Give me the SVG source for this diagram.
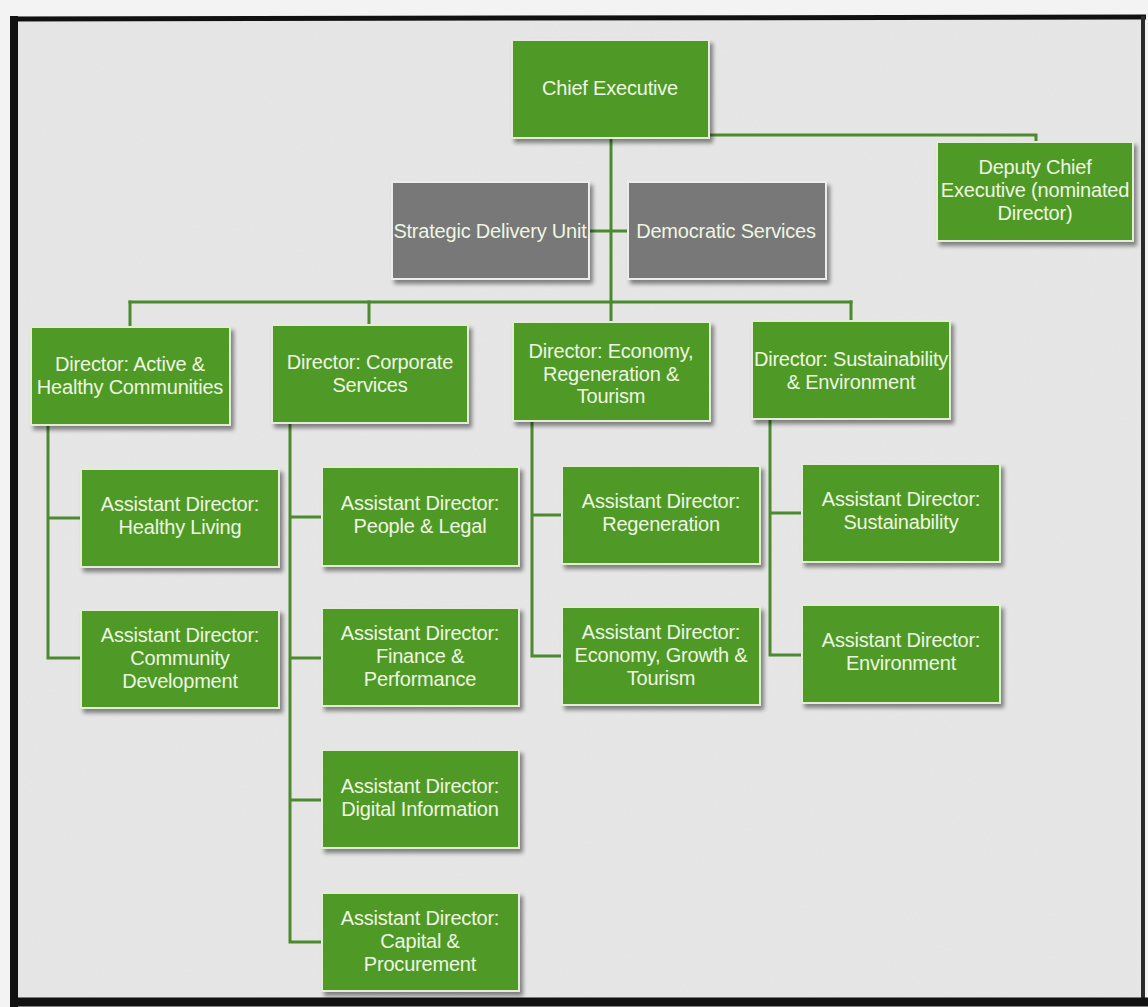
<svg xmlns="http://www.w3.org/2000/svg" width="1148" height="1007" viewBox="0 0 1148 1007">
<defs>
<style>
.g{fill:#509a28;stroke:#e3edd6;stroke-width:2;filter:url(#sh)}
.k{fill:#787878;stroke:#ececec;stroke-width:2;filter:url(#sh)}
.t{font-family:"Liberation Sans",Arial,sans-serif;font-size:20px;fill:#eef6e2;text-anchor:middle;letter-spacing:-0.2px}
.c{fill:none;stroke:#4b8a2e;stroke-width:3;stroke-linecap:square}
</style>
<filter id="sh" x="-10%" y="-10%" width="125%" height="130%">
<feGaussianBlur in="SourceAlpha" stdDeviation="2"/>
<feOffset dx="3" dy="4" result="b"/>
<feComponentTransfer><feFuncA type="linear" slope="0.45"/></feComponentTransfer>
<feMerge><feMergeNode/><feMergeNode in="SourceGraphic"/></feMerge>
</filter>
<filter id="noise" x="0" y="0" width="100%" height="100%">
<feTurbulence type="fractalNoise" baseFrequency="0.9" numOctaves="2" seed="3"/>
<feColorMatrix type="matrix" values="0 0 0 0 0.5  0 0 0 0 0.5  0 0 0 0 0.5  0 0 0 0.12 0"/>
</filter>
</defs>
<rect x="0" y="0" width="1148" height="1007" fill="#f3f3f3"/>
<rect x="14" y="20" width="1130" height="980" fill="#e8e8e8"/>
<rect x="14" y="20" width="1130" height="980" filter="url(#noise)"/>
<g id="frame" fill="none" stroke="#111">
<line x1="10" y1="19" x2="1146" y2="17" stroke-width="5"/>
<line x1="14" y1="16" x2="14" y2="1007" stroke-width="8"/>
<line x1="1143" y1="16" x2="1143" y2="1000" stroke-width="4" stroke="#2a2a2a"/>
<line x1="10" y1="1002" x2="1148" y2="1002" stroke-width="9"/>
</g>
<g id="connectors" class="c">
<path class="c" d="M611 138V302"/>
<path class="c" d="M710 135H1036V142"/>
<path class="c" d="M590 231H628"/>
<path class="c" d="M130 302H851"/>
<path class="c" d="M130 302V327M369 302V325M611 302V322M851 302V321"/>
<path class="c" d="M48 425V658M48 518H81M48 658H81"/>
<path class="c" d="M290 423V942M290 517H322M290 658H322M290 800H322M290 942H322"/>
<path class="c" d="M532 421V656M532 515H562M532 656H562"/>
<path class="c" d="M770 419V655M770 513H802M770 655H802"/>
</g>
<g id="chief"><rect class="g" x="512" y="40" width="197" height="98"/><text class="t" x="610" y="95">Chief Executive</text></g>
<g id="deputy"><rect class="g" x="937" y="142" width="196" height="99"/><text class="t" x="1035" y="174">Deputy Chief</text><text class="t" x="1035" y="197">Executive (nominated</text><text class="t" x="1035" y="220">Director)</text></g>
<g id="sdu"><rect class="k" x="392" y="182" width="197" height="97"/><text class="t" x="490" y="238">Strategic Delivery Unit</text></g>
<g id="dem"><rect class="k" x="628" y="182" width="198" height="97"/><text class="t" x="726" y="238">Democratic Services</text></g>
<g id="dir-active"><rect class="g" x="31" y="327" width="199" height="98"/><text class="t" x="130" y="371">Director: Active &amp;</text><text class="t" x="130" y="394">Healthy Communities</text></g>
<g id="dir-corp"><rect class="g" x="272" y="325" width="196" height="98"/><text class="t" x="370" y="369">Director: Corporate</text><text class="t" x="370" y="392">Services</text></g>
<g id="dir-econ"><rect class="g" x="513" y="322" width="197" height="99"/><text class="t" x="611" y="358">Director: Economy,</text><text class="t" x="611" y="381">Regeneration &amp;</text><text class="t" x="611" y="403">Tourism</text></g>
<g id="dir-sust"><rect class="g" x="752" y="321" width="198" height="98"/><text class="t" x="851" y="366">Director: Sustainability</text><text class="t" x="851" y="389">&amp; Environment</text></g>
<g id="ad-healthy"><rect class="g" x="81" y="469" width="198" height="98"/><text class="t" x="180" y="511">Assistant Director:</text><text class="t" x="180" y="534">Healthy Living</text></g>
<g id="ad-community"><rect class="g" x="81" y="610" width="198" height="98"/><text class="t" x="180" y="642">Assistant Director:</text><text class="t" x="180" y="665">Community</text><text class="t" x="180" y="688">Development</text></g>
<g id="ad-people"><rect class="g" x="322" y="467" width="197" height="99"/><text class="t" x="420" y="510">Assistant Director:</text><text class="t" x="420" y="533">People &amp; Legal</text></g>
<g id="ad-finance"><rect class="g" x="322" y="608" width="197" height="98"/><text class="t" x="420" y="640">Assistant Director:</text><text class="t" x="420" y="663">Finance &amp;</text><text class="t" x="420" y="686">Performance</text></g>
<g id="ad-digital"><rect class="g" x="322" y="750" width="197" height="98"/><text class="t" x="420" y="793">Assistant Director:</text><text class="t" x="420" y="816">Digital Information</text></g>
<g id="ad-capital"><rect class="g" x="322" y="893" width="197" height="98"/><text class="t" x="420" y="925">Assistant Director:</text><text class="t" x="420" y="948">Capital &amp;</text><text class="t" x="420" y="971">Procurement</text></g>
<g id="ad-regen"><rect class="g" x="562" y="466" width="198" height="98"/><text class="t" x="661" y="508">Assistant Director:</text><text class="t" x="661" y="531">Regeneration</text></g>
<g id="ad-econ"><rect class="g" x="562" y="607" width="198" height="98"/><text class="t" x="661" y="639">Assistant Director:</text><text class="t" x="661" y="662">Economy, Growth &amp;</text><text class="t" x="661" y="685">Tourism</text></g>
<g id="ad-sust"><rect class="g" x="802" y="464" width="198" height="98"/><text class="t" x="901" y="506">Assistant Director:</text><text class="t" x="901" y="529">Sustainability</text></g>
<g id="ad-env"><rect class="g" x="802" y="605" width="198" height="98"/><text class="t" x="901" y="647">Assistant Director:</text><text class="t" x="901" y="670">Environment</text></g>
</svg>
